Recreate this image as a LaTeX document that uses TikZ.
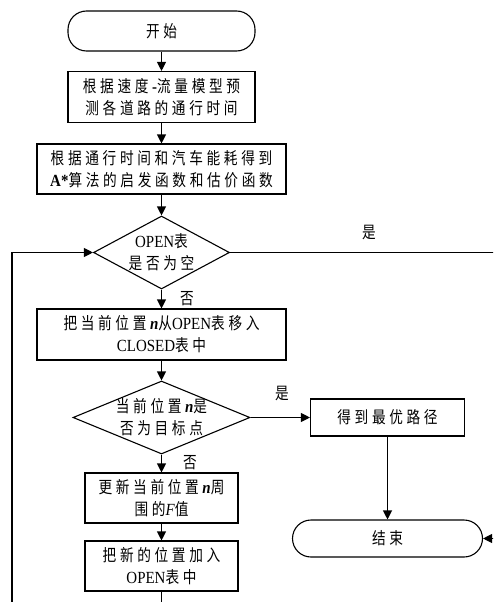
\documentclass[tikz,border=0pt]{standalone}
\usepackage{fontspec}
\setmainfont{Liberation Serif}[FakeStretch=0.88]
\newfontfamily\cjk[Scale=0.98, FakeStretch=0.82, LetterSpace=22]{Noto Sans CJK SC}
\usetikzlibrary{arrows.meta,shapes.geometric}
\newcommand\zh[1]{{\cjk #1}}
\begin{document}
\begin{tikzpicture}[x=1pt,y=-1pt,
  every node/.style={font=\fontsize{17}{22}\selectfont, align=center},
  proc/.style={draw, line width=1.1pt, rectangle, inner sep=0pt},
  term/.style={draw, line width=1.1pt, rectangle, rounded corners=18.5pt, inner sep=0pt},
  dia/.style={draw, line width=1.1pt, diamond, inner sep=0pt},
  txt/.style={inner sep=0pt},
  arr/.style={line width=1.1pt, -{Triangle[length=9pt,width=9pt]}},
  ln/.style={line width=1.1pt}]
\useasboundingbox (0,0) rectangle (493,602);
\clip (0,0) rectangle (493,602);

\node[term, minimum width=187pt, minimum height=40pt] (start) at (161.5,31) {\zh{开始}};
\node[proc, minimum width=187pt, minimum height=51pt] (b1) at (161.5,97) {\zh{根据速度}\textbf{-}\zh{流量模型预}\\\zh{测各道路的通行时间}};
\node[proc, minimum width=249pt, minimum height=50pt] (b2) at (161.5,169) {\zh{根据通行时间和汽车能耗得到}\\\textbf{A*}\zh{算法的启发函数和估价函数}};
\node[dia, minimum width=136pt, minimum height=73pt] (d1) at (161.5,252.5) {};
\node[txt] (d1t) at (161.5,252.5) {OPEN\zh{表}\\\zh{是否为空}};
\node[proc, minimum width=249pt, minimum height=51pt] (b3) at (161.5,334.5) {\zh{把当前位置}\textbf{\textit{n}}\zh{从}OPEN\zh{表移入}\\CLOSED\zh{表中}};
\node[dia, minimum width=177pt, minimum height=73pt] (d2) at (161.5,417.5) {};
\node[txt] (d2t) at (161.5,417.5) {\zh{当前位置}\textbf{\textit{n}}\zh{是}\\\zh{否为目标点}};
\node[proc, minimum width=154pt, minimum height=37pt] (b4) at (387.5,417.5) {\zh{得到最优路径}};
\node[term, minimum width=190pt, minimum height=37pt] (end) at (387.5,538.5) {\zh{结束}};
\node[proc, minimum width=153pt, minimum height=50pt] (b5) at (161.5,498) {\zh{更新当前位置}\textbf{\textit{n}}\zh{周}\\\zh{围的}\textit{F}\zh{值}};
\node[proc, minimum width=153pt, minimum height=50pt] (b6) at (161.5,566) {\zh{把新的位置加入}\\OPEN\zh{表中}};

\node[txt] (l1) at (369,233) {\zh{是}};
\node[txt] (l2) at (187,299) {\zh{否}};
\node[txt] (l3) at (282,394) {\zh{是}};
\node[txt] (l4) at (190,463) {\zh{否}};

\coordinate (lp) at (12,640);
\coordinate (rp) at (520,252.5);

\draw[arr] (start) -- (b1);
\draw[arr] (b1) -- (b2);
\draw[arr] (b2) -- (d1);
\draw[arr] (d1) -- (b3);
\draw[arr] (b3) -- (d2);
\draw[arr] (d2.east) -- (b4.west);
\draw[arr] (b4) -- (end);
\draw[arr] (d2) -- (b5);
\draw[arr] (b5) -- (b6);
\draw[arr] (b6.south) |- (lp) |- (d1.west);
\draw[arr] (d1.east) -- (rp) |- (end.east);
\end{tikzpicture}
\end{document}
